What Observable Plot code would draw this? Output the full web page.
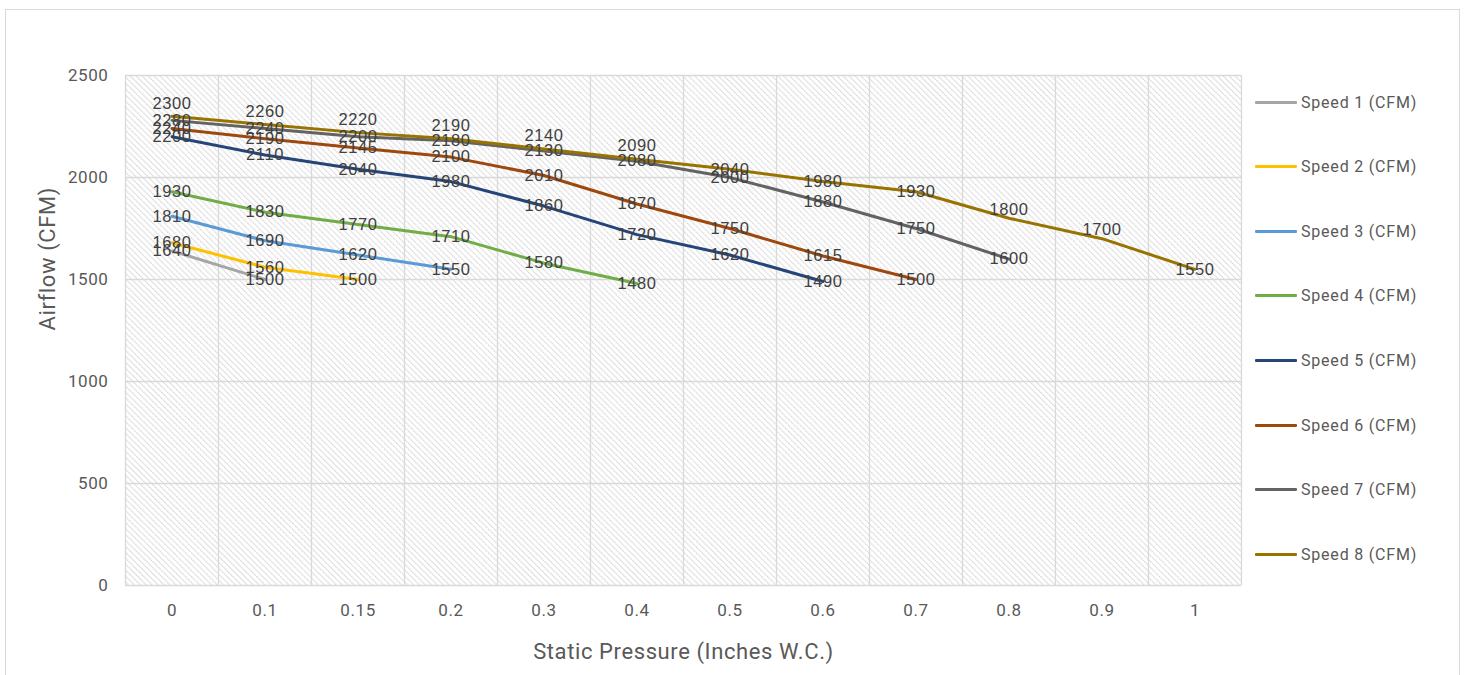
<!DOCTYPE html>
<html><head><meta charset="utf-8">
<script src="https://cdn.jsdelivr.net/npm/d3@7"></script>
<script src="https://cdn.jsdelivr.net/npm/@observablehq/plot@0.6"></script>
<style>
body{margin:0;background:#fff;}
#wrap{position:relative;width:1465px;height:675px;overflow:hidden;background:#fff;}
#chart{position:absolute;left:0;top:0;}
#frame{position:absolute;left:5px;top:9px;width:1455px;height:700px;border:1px solid #d9d9d9;box-sizing:border-box;pointer-events:none;}
.lg{position:absolute;left:1255px;height:20px;display:flex;align-items:center;font-family:Roboto,sans-serif;font-size:16px;letter-spacing:0.8px;color:#595959;white-space:nowrap;}
.lg span.sw{display:inline-block;width:42px;height:3px;margin-right:4px;border-radius:1px;}
</style></head>
<body><div id="wrap"><div id="chart"></div><div id="legend"></div><div id="frame"></div></div>
<script>
const categories = ["0","0.1","0.15","0.2","0.3","0.4","0.5","0.6","0.7","0.8","0.9","1"];
const seriesNames = ["Speed 1 (CFM)","Speed 2 (CFM)","Speed 3 (CFM)","Speed 4 (CFM)","Speed 5 (CFM)","Speed 6 (CFM)","Speed 7 (CFM)","Speed 8 (CFM)"];
const speed1 = [1640,1500];
const speed2 = [1680,1560,1500];
const speed3 = [1810,1690,1620,1550];
const speed4 = [1930,1830,1770,1710,1580,1480];
const speed5 = [2200,2110,2040,1980,1860,1720,1620,1490];
const speed6 = [2240,2190,2145,2100,2010,1870,1750,1615,1500];
const speed7 = [2280,2240,2200,2180,2130,2080,2000,1880,1750,1600];
const speed8 = [2300,2260,2220,2190,2140,2090,2040,1980,1930,1800,1700,1550];
const colors = ["#A5A5A5","#FFC000","#5B9BD5","#70AD47","#264478","#9E480E","#636363","#997300"];
const yTicks = [0,500,1000,1500,2000,2500];

const series = [speed1,speed2,speed3,speed4,speed5,speed6,speed7,speed8];
const rows = [];
series.forEach((vals, s) => vals.forEach((v, i) => rows.push({s, name: seriesNames[s], i, v})));
// Speed 8's first labels sit above its line, all others are centred on the point
const isAbove = d => d.s === 7 && d.i <= 5;
const isSlight = d => d.s === 7 && (d.i === 9 || d.i === 10);
const centred = rows.filter(d => !isAbove(d) && !isSlight(d));
const above = rows.filter(isAbove);
const slight = rows.filter(isSlight);

const labelFont = {fill:"#404040", fontSize:16.5, fontFamily:"'Liberation Sans', Arial, sans-serif"};

const plot = Plot.plot({
  width: 1465, height: 675,
  marginLeft: 125, marginRight: 224, marginTop: 75, marginBottom: 90,
  style: {fontFamily: "Roboto, sans-serif", background: "transparent", color: "#595959", letterSpacing: "0.6px"},
  x: {domain: [-0.5, 11.5], axis: null},
  y: {domain: [0, 2500], axis: null},
  color: {domain: seriesNames, range: colors},
  marks: [
    Plot.frame({fill: "url(#hatch)", stroke: null}),
    Plot.ruleX(d3.range(categories.length + 1).map(k => k - 0.5), {stroke: "#d9d9d9", strokeWidth: 1.3}),
    Plot.ruleY(yTicks, {stroke: "#d9d9d9", strokeWidth: 1.3}),
    Plot.line(rows, {x: "i", y: "v", z: "name", stroke: "name", strokeWidth: 3, strokeLinejoin: "round", strokeLinecap: "round"}),
    Plot.text(centred, {x: "i", y: "v", text: d => String(d.v), ...labelFont}),
    Plot.text(above, {x: "i", y: "v", text: d => String(d.v), dy: -13, ...labelFont}),
    Plot.text(slight, {x: "i", y: "v", text: d => String(d.v), dy: -9, ...labelFont}),
    Plot.axisY({ticks: yTicks, tickFormat: d => String(d), tickSize: 0, tickPadding: 17, fontSize: 17, label: null}),
    Plot.axisX({ticks: d3.range(categories.length), tickFormat: i => categories[i], tickSize: 0, tickPadding: 18, fontSize: 17, label: null}),
    Plot.text(["Airflow (CFM)"], {frameAnchor: "left", dx: -78, rotate: -90, fontSize: 22, fill: "#595959"}),
    Plot.text(["Static Pressure (Inches W.C.)"], {frameAnchor: "bottom", dy: 73, fontSize: 22, fill: "#595959"})
  ]
});

const svg = d3.select(plot);
const defs = svg.insert("defs", ":first-child");
const pat = defs.append("pattern").attr("id", "hatch").attr("patternUnits", "userSpaceOnUse")
  .attr("width", 4.2).attr("height", 4.2).attr("patternTransform", "rotate(-45)");
pat.append("rect").attr("width", 4.2).attr("height", 4.2).attr("fill", "#ffffff");
pat.append("line").attr("x1", 0.6).attr("y1", 0).attr("x2", 0.6).attr("y2", 4.2)
  .attr("stroke", "#d6d6d6").attr("stroke-width", 1.2).attr("stroke-dasharray", "1.4 0.7");
document.getElementById("chart").appendChild(plot);

const legend = document.getElementById("legend");
seriesNames.forEach((name, k) => {
  const div = document.createElement("div");
  div.className = "lg";
  div.style.top = (102 + k * 64.6 - 10) + "px";
  const sw = document.createElement("span");
  sw.className = "sw";
  sw.style.background = colors[k];
  div.appendChild(sw);
  div.appendChild(document.createTextNode(name));
  legend.appendChild(div);
});
</script>
</body></html>
